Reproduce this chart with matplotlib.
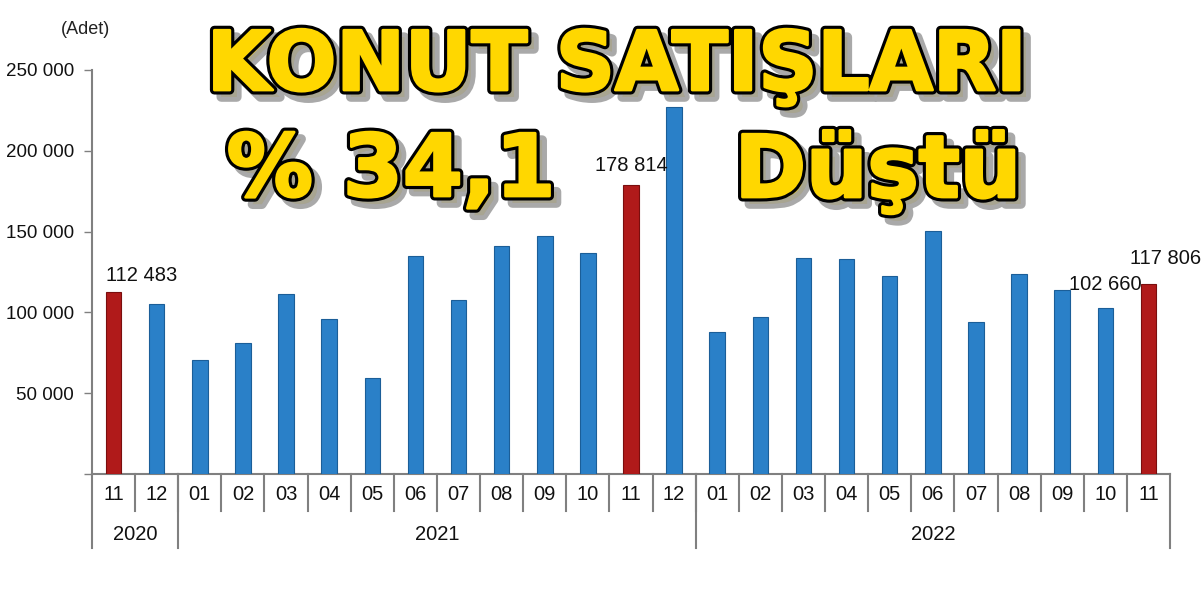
import matplotlib
matplotlib.use("Agg")
import matplotlib.pyplot as plt
import matplotlib.patheffects as pe
from matplotlib.transforms import blended_transform_factory

months = ["11", "12",
          "01", "02", "03", "04", "05", "06", "07", "08", "09", "10", "11", "12",
          "01", "02", "03", "04", "05", "06", "07", "08", "09", "10", "11"]
years = ["2020", "2021", "2022"]
year_counts = [2, 12, 11]
sales = [112483, 105200,
         70500, 81000, 111400, 95900, 59400, 134900, 107700, 141000, 147300, 136800, 178814, 227100,
         88000, 97300, 133900, 132900, 122500, 150200, 94100, 123800, 113700, 102660, 117806]
highlight = [0, 12, 24]
labels = {0: "112 483", 12: "178 814", 23: "102 660", 24: "117 806"}
label_offsets = {0: (20, 5), 12: (0, 7), 23: (0, 10), 24: (12, 11)}
yticks = [0, 50000, 100000, 150000, 200000, 250000]
ytick_labels = ["", "50 000", "100 000", "150 000", "200 000", "250 000"]

W, H = 1203, 596
fig = plt.figure(figsize=(W / 100, H / 100), dpi=100)
ax = fig.add_axes([92 / W, 1 - 474 / H, (1170 - 92) / W, (474 - 70) / H])

blue, blue_e = "#2a80c8", "#1b5e98"
red, red_e = "#b01a1a", "#7a0e0e"
x = list(range(len(sales)))
colors = [red if i in highlight else blue for i in x]
edges = [red_e if i in highlight else blue_e for i in x]
ax.bar(x, sales, width=0.36, color=colors, edgecolor=edges, linewidth=0.8, zorder=3)

ax.set_xlim(-0.5, len(sales) - 0.5)
ax.set_ylim(0, 250000)
ax.set_yticks(yticks)
ax.set_yticklabels(ytick_labels, fontsize=13.5, family="Liberation Sans", color="#111111")
ax.tick_params(axis="y", length=6, width=1, color="#808080", pad=7, direction="out")
ax.set_xticks([])
for s in ["top", "right"]:
    ax.spines[s].set_visible(False)
for s in ["left", "bottom"]:
    ax.spines[s].set_color("#808080")
    ax.spines[s].set_linewidth(1.5)

tr = blended_transform_factory(ax.transData, ax.transAxes)
px = 1 / 404
for i, m in enumerate(months):
    ax.text(i, -21 * px, m, transform=tr, ha="center", va="center", fontsize=14.5,
            family="Liberation Sans", color="#111111")
for b in range(1, len(months)):
    ax.plot([b - 0.5, b - 0.5], [0, -37 * px], transform=tr, color="#808080", lw=1.5, clip_on=False)
start = 0
bounds = [-0.5]
for y, c in zip(years, year_counts):
    ax.text(start + c / 2 - 0.5, -61 * px, y, transform=tr, ha="center", va="center",
            fontsize=14.5, family="Liberation Sans", color="#111111")
    start += c
    bounds.append(start - 0.5)
for b in bounds:
    ax.plot([b, b], [0, -74 * px], transform=tr, color="#808080", lw=1.5, clip_on=False)

for i, t in labels.items():
    ax.annotate(t, (i, sales[i]), xytext=label_offsets[i], textcoords="offset points",
                ha="center", va="bottom", fontsize=14.5, family="Liberation Sans", color="#111111")

fig.text(86 / W, 1 - 30 / H, "(Adet)", ha="center", va="center", fontsize=13,
         family="Liberation Sans", color="#222222")

effects = [pe.SimplePatchShadow(offset=(5, -5), shadow_rgbFace="#a0a0a0", alpha=0.9),
           pe.Stroke(offset=(5, -5), linewidth=7, foreground="#a0a0a0", alpha=0.9),
           pe.Stroke(linewidth=6.5, foreground="black"),
           pe.Stroke(linewidth=2, foreground="#ffd700"),
           pe.Normal()]
tkw = dict(color="#ffd700", fontweight="heavy", family="DejaVu Sans", path_effects=effects,
           va="baseline", ha="center")
fig.text(617 / W, 1 - 90 / H, "KONUT SATIŞLARI", fontsize=59, **tkw)
fig.text(391 / W, 1 - 196 / H, "% 34,1", fontsize=62, **tkw)
fig.text(878 / W, 1 - 197 / H, "Düştü", fontsize=62, **tkw)

fig.savefig("out.png", dpi=100, facecolor="white")
